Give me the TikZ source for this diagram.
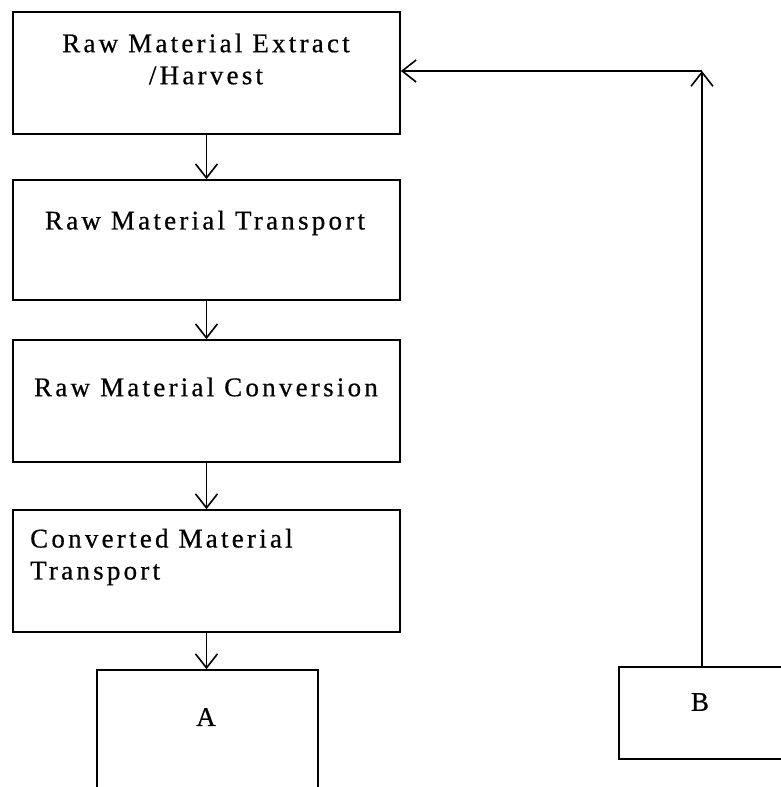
\documentclass[tikz,border=0pt]{standalone}
\usepackage{fontspec}
\setmainfont{Liberation Serif}[LetterSpace=12,FakeBold=0.6]
\usetikzlibrary{arrows.meta}
\begin{document}
\begin{tikzpicture}[x=1pt,y=-1pt,line width=1.7pt,font=\fontsize{27}{32}\selectfont,>={Straight Barb[length=14pt,width=22pt,line width=1.6pt]}]
\useasboundingbox (0,0) rectangle (780,787);
\tikzset{stage/.style={draw,rectangle,inner sep=0pt}}
\node[stage,minimum width=387pt,minimum height=122pt] (extract) at (206.5,73) {};
\node[stage,minimum width=387pt,minimum height=120pt] (rawtrans) at (206.5,240) {};
\node[stage,minimum width=387pt,minimum height=122pt] (convert) at (206.5,401) {};
\node[stage,minimum width=387pt,minimum height=122pt] (convtrans) at (206.5,571) {};
\node[stage,minimum width=221pt,minimum height=130pt] (boxa) at (207.5,735) {};
\node[stage,minimum width=166pt,minimum height=92pt] (boxb) at (702,713) {};
\node[align=center] (extracttxt) at (206,59) {Raw Material Extract\\/Harvest};
\node (rawtranstxt) at (205,223) {Raw Material Transport};
\node (converttxt) at (206,387) {Raw Material Conversion};
\node[align=left,anchor=west] (convtranstxt) at (26,557) {Converted Material\\Transport};
\node (atxt) at (206,717) {A};
\node (btxt) at (700,702) {B};
\draw[->] (extract) -- (rawtrans);
\draw[->] (rawtrans) -- (convert);
\draw[->] (convert) -- (convtrans);
\draw[->] (convtrans) -- (convtrans.south |- boxa.north);
\coordinate (turn) at (702,71);
\draw[->] (boxb.north) -- (turn);
\draw[->] (turn) -- (turn -| extract.east);
\end{tikzpicture}
\end{document}
